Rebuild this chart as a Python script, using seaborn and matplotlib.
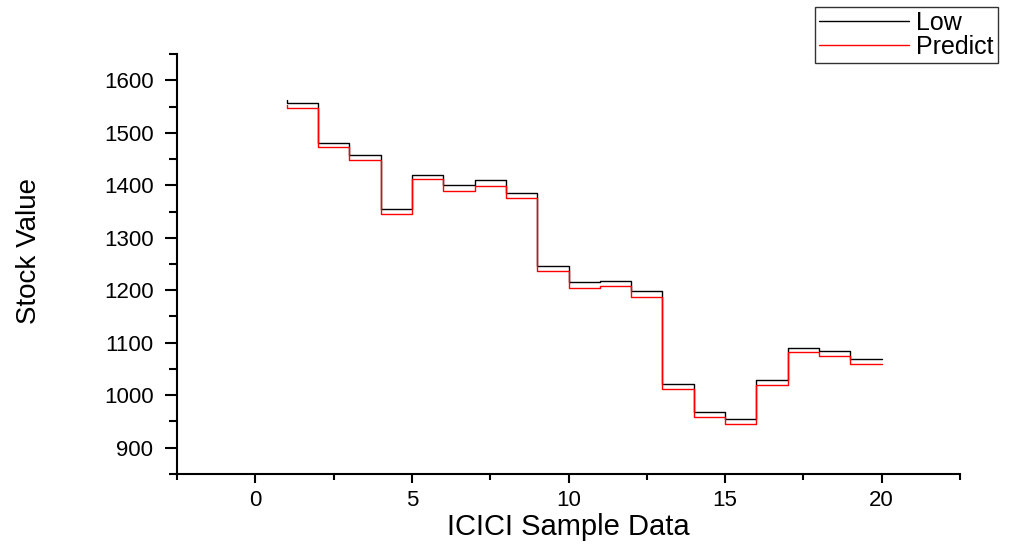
import numpy as np
import pandas as pd
import matplotlib
matplotlib.use("Agg")
import matplotlib.pyplot as plt
import seaborn as sns
from matplotlib.ticker import MultipleLocator

# data
sample = list(range(1, 21))
low = [1562, 1557, 1481, 1458, 1355, 1419, 1400, 1410, 1385, 1246,
       1215, 1218, 1199, 1021, 969, 955, 1029, 1090, 1085, 1069]
predict = [1553, 1548, 1472, 1448, 1346, 1411, 1390, 1398, 1375, 1236,
           1205, 1208, 1188, 1012, 959, 945, 1020, 1082, 1075, 1060]

df = pd.DataFrame({"Sample": sample * 2,
                   "Value": low + predict,
                   "Series": ["Low"] * len(low) + ["Predict"] * len(predict)})

sns.set_style("ticks")
plt.rcParams['font.family'] = ['Liberation Sans', 'DejaVu Sans']
plt.rcParams['text.color'] = 'black'
plt.rcParams['axes.labelcolor'] = 'black'

fig = plt.figure(figsize=(10.24, 5.44), dpi=100)
ax = fig.add_axes([0.1729, 0.1287, 0.7646, 0.772])

sns.lineplot(data=df, x="Sample", y="Value", hue="Series",
             palette={"Low": "black", "Predict": "red"},
             drawstyle="steps-pre", linewidth=1.0, ax=ax, legend=False)

ax.set_xlim(-2.5, 22.5)
ax.set_ylim(850, 1650)
ax.xaxis.set_major_locator(MultipleLocator(5))
ax.xaxis.set_minor_locator(MultipleLocator(2.5))
ax.set_yticks(range(900, 1601, 100))
ax.yaxis.set_minor_locator(MultipleLocator(50))
ax.tick_params(axis="y", which="major", direction="out", length=9, width=1.5,
               labelsize=16, color="black", labelcolor="black", pad=8)
ax.tick_params(axis="y", which="minor", direction="out", length=5.5, width=1.5,
               color="black")
ax.tick_params(axis="x", which="major", direction="out", length=6.5, width=1.5,
               labelsize=16, color="black", labelcolor="black", pad=5)
ax.tick_params(axis="x", which="minor", direction="out", length=4, width=1.5,
               color="black")
for s in ["top", "right"]:
    ax.spines[s].set_visible(False)
for s in ["left", "bottom"]:
    ax.spines[s].set_linewidth(1.5)
    ax.spines[s].set_color("black")

ax.set_xlabel("ICICI Sample Data", fontsize=21, color="black")
ax.xaxis.set_label_coords(0.5, -0.092)
ax.set_ylabel("Stock Value", fontsize=20, color="black",
              family=["Liberation Sans Narrow", "Liberation Sans", "DejaVu Sans"])
ax.yaxis.set_label_coords(-0.172, 0.53)

handles = [plt.Line2D([], [], color="black", lw=1.0),
           plt.Line2D([], [], color="red", lw=1.0)]
leg = fig.legend(handles, ["Low", "Predict"], loc="upper left",
                 bbox_to_anchor=(0.796, 0.987), fontsize=18, frameon=True,
                 fancybox=False, handlelength=3.6, borderpad=0.15,
                 labelspacing=0.0, handletextpad=0.3, borderaxespad=0,
                 labelcolor="black")
leg.get_frame().set_edgecolor("black")
leg.get_frame().set_linewidth(1.0)

fig.savefig("out.png", dpi=100)
